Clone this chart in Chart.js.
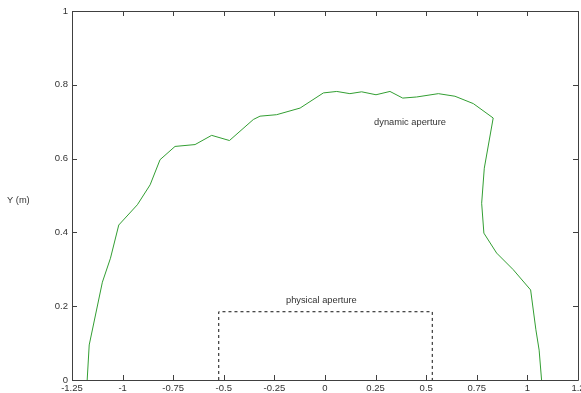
<!DOCTYPE html>
<html>
<head>
<meta charset="utf-8">
<script src="https://cdn.jsdelivr.net/npm/chart.js@4/dist/chart.umd.min.js"></script>
<style>
  html, body { margin: 0; padding: 0; background: #fff; }
  #wrap { width: 581px; height: 393px; }
</style>
</head>
<body>
<div id="wrap"><canvas id="c" width="581" height="393"></canvas></div>
<script>
// ----- DATOS ----- //
const apertureX = [-1.175, -1.165, -1.10, -1.06, -1.019, -0.927, -0.864, -0.815, -0.741, -0.642, -0.560, -0.472,
  -0.354, -0.321, -0.239, -0.123, -0.008, 0.058, 0.123, 0.181, 0.252, 0.321, 0.384, 0.453, 0.560, 0.642, 0.733,
  0.831, 0.787, 0.774, 0.785, 0.848, 0.930, 1.016, 1.042, 1.058, 1.070];
const apertureY = [0, 0.095, 0.265, 0.33, 0.42, 0.475, 0.529, 0.597, 0.633, 0.638, 0.663, 0.649,
  0.706, 0.715, 0.719, 0.737, 0.778, 0.782, 0.776, 0.781, 0.773, 0.782, 0.764, 0.767, 0.776, 0.769, 0.749,
  0.710, 0.574, 0.479, 0.398, 0.344, 0.299, 0.244, 0.136, 0.081, 0];
const physX = [-0.525, -0.525, 0.53, 0.53];
const physY = [0, 0.185, 0.185, 0];
const xTicks = [-1.25, -1, -0.75, -0.5, -0.25, 0, 0.25, 0.5, 0.75, 1, 1.25];
const xTickLabels = ["-1.25", "-1", "-0.75", "-0.5", "-0.25", "0", "0.25", "0.5", "0.75", "1", "1.2"];
const yTicks = [0, 0.2, 0.4, 0.6, 0.8, 1];
const yTickLabels = ["0", "0.2", "0.4", "0.6", "0.8", "1"];
const notes = [
  {text: "dynamic aperture", x: 0.42, y: 0.697},
  {text: "physical aperture", x: -0.018, y: 0.215}
];

const FONT = "'Liberation Sans', Arial, sans-serif";
const AXIS = "#404040";
const TEXT = "#333";

// marco y marcas hacia adentro (estilo matlab)
const framePlugin = {
  id: "frame",
  afterDraw(chart) {
    const ctx = chart.ctx, a = chart.chartArea;
    const xs = chart.scales.x, ys = chart.scales.y;
    ctx.save();
    ctx.strokeStyle = AXIS;
    ctx.lineWidth = 1;
    ctx.beginPath();
    ctx.rect(Math.round(a.left) + 0.5, Math.round(a.top) + 0.5, Math.round(a.right - a.left), Math.round(a.bottom - a.top));
    xTicks.forEach(v => {
      const px = Math.round(xs.getPixelForValue(v)) + 0.5;
      ctx.moveTo(px, a.bottom); ctx.lineTo(px, a.bottom - 5);
      ctx.moveTo(px, a.top); ctx.lineTo(px, a.top + 5);
    });
    yTicks.forEach(v => {
      const py = Math.round(ys.getPixelForValue(v)) + 0.5;
      ctx.moveTo(a.left, py); ctx.lineTo(a.left + 5, py);
      ctx.moveTo(a.right, py); ctx.lineTo(a.right - 5, py);
    });
    ctx.stroke();
    // textos
    ctx.fillStyle = TEXT;
    ctx.font = "9.3px " + FONT;
    ctx.textAlign = "center";
    ctx.textBaseline = "middle";
    notes.forEach(n => ctx.fillText(n.text, xs.getPixelForValue(n.x), ys.getPixelForValue(n.y)));
    ctx.textAlign = "left";
    ctx.fillText("Y (m)", 7, 200);
    ctx.restore();
  }
};

new Chart(document.getElementById("c"), {
  type: "scatter",
  data: {
    datasets: [
      {data: apertureX.map((x, i) => ({x: x, y: apertureY[i]})), showLine: true,
       borderColor: "rgb(50,158,50)", borderWidth: 1, pointRadius: 0, tension: 0, fill: false},
      {data: physX.map((x, i) => ({x: x, y: physY[i]})), showLine: true,
       borderColor: "#111", borderWidth: 1, borderDash: [3, 3], pointRadius: 0, tension: 0, fill: false}
    ]
  },
  options: {
    responsive: false,
    animation: false,
    events: [],
    layout: {padding: {top: 11, right: 3, left: 0, bottom: 0}},
    plugins: {legend: {display: false}, tooltip: {enabled: false}},
    scales: {
      x: {
        min: -1.25, max: 1.25,
        grid: {display: false, drawTicks: false},
        border: {display: false},
        afterBuildTicks: s => { s.ticks = xTicks.map(v => ({value: v})); },
        afterFit: s => { s.height = 13; s.paddingLeft = 0; s.paddingRight = 0; },
        ticks: {
          autoSkip: false, maxRotation: 0, padding: 3, color: TEXT,
          font: {family: FONT, size: 9.5},
          callback: (v, i) => xTickLabels[i]
        }
      },
      y: {
        min: 0, max: 1,
        grid: {display: false, drawTicks: false},
        border: {display: false},
        afterBuildTicks: s => { s.ticks = yTicks.map(v => ({value: v})); },
        afterFit: s => { s.width = 72; s.paddingTop = 0; s.paddingBottom = 0; },
        ticks: {
          autoSkip: false, padding: 4, color: TEXT,
          font: {family: FONT, size: 9.5},
          callback: (v, i) => yTickLabels[i]
        }
      }
    }
  },
  plugins: [framePlugin]
});
</script>
</body>
</html>
